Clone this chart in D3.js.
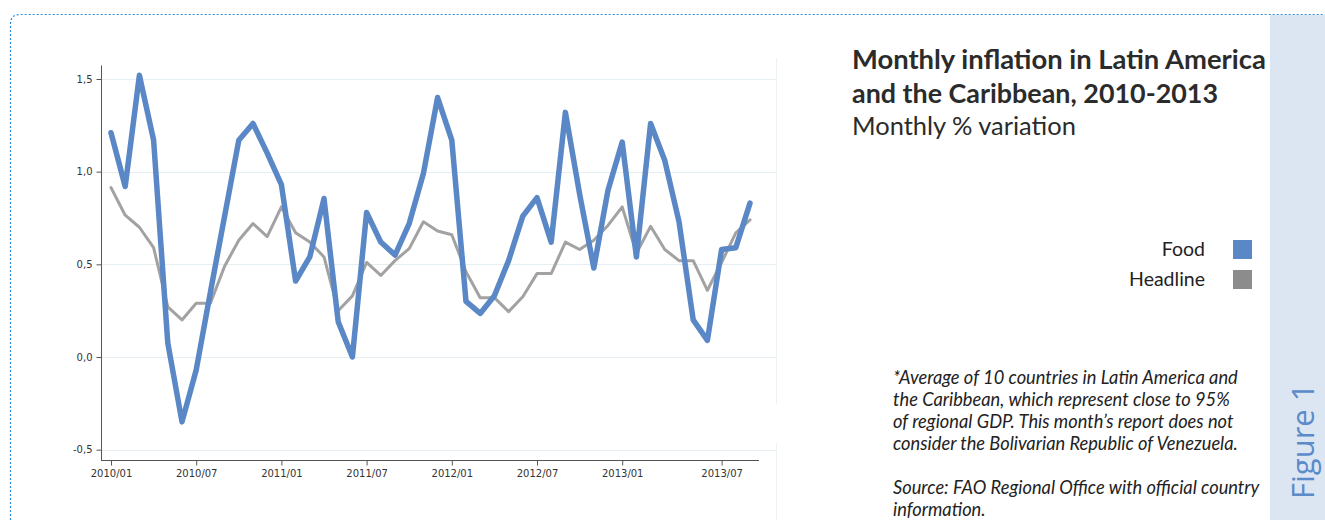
<!DOCTYPE html>
<html>
<head>
<meta charset="utf-8">
<script src="https://cdn.jsdelivr.net/npm/d3@7"></script>
<style>
  html, body { margin: 0; padding: 0; background: #fff; }
  svg { display: block; }
</style>
</head>
<body>
<svg id="chart" width="1325" height="520"></svg>
<script>
// ---------- data ----------
const months = [
  "2010/01","2010/02","2010/03","2010/04","2010/05","2010/06","2010/07","2010/08","2010/09","2010/10","2010/11","2010/12",
  "2011/01","2011/02","2011/03","2011/04","2011/05","2011/06","2011/07","2011/08","2011/09","2011/10","2011/11","2011/12",
  "2012/01","2012/02","2012/03","2012/04","2012/05","2012/06","2012/07","2012/08","2012/09","2012/10","2012/11","2012/12",
  "2013/01","2013/02","2013/03","2013/04","2013/05","2013/06","2013/07","2013/08","2013/09","2013/10"
];
const food = [
  1.21, 0.92, 1.52, 1.17, 0.075, -0.35, -0.07, 0.35, 0.76, 1.17, 1.26, 1.10,
  0.93, 0.41, 0.54, 0.855, 0.19, 0.0, 0.78, 0.62, 0.55, 0.72, 0.99, 1.40,
  1.17, 0.30, 0.235, 0.33, 0.52, 0.76, 0.86, 0.62, 1.32, 0.88, 0.48, 0.90,
  1.16, 0.54, 1.26, 1.06, 0.73, 0.20, 0.09, 0.58, 0.59, 0.83
];
const headline = [
  0.914, 0.765, 0.70, 0.59, 0.27, 0.20, 0.29, 0.29, 0.49, 0.63, 0.72, 0.65,
  0.81, 0.67, 0.62, 0.54, 0.25, 0.33, 0.51, 0.44, 0.52, 0.585, 0.73, 0.68,
  0.66, 0.46, 0.32, 0.32, 0.245, 0.325, 0.45, 0.45, 0.62, 0.58, 0.63, 0.71,
  0.81, 0.56, 0.705, 0.58, 0.52, 0.52, 0.36, 0.51, 0.67, 0.74
];
// x tick labels and the month each one sits on in the original
const xTickLabels = ["2010/01","2010/07","2011/01","2011/07","2012/01","2012/07","2013/01","2013/07"];
const xTickMonths = ["2010/01","2010/07","2011/01","2011/07","2012/01","2012/07","2013/01","2013/08"];
const yTicks = [-0.5, 0, 0.5, 1.0, 1.5];
const seriesNames = ["Food", "Headline"];
const titleLines = ["Monthly inflation in Latin America", "and the Caribbean, 2010-2013"];
const subtitle = "Monthly % variation";
const noteLines = [
  "*Average of 10 countries in Latin America and",
  "the Caribbean, which represent close to 95%",
  "of regional GDP. This month\u2019s report does not",
  "consider the Bolivarian Republic of Venezuela."
];
const sourceLines = ["Source: FAO Regional Office with official country", "information."];
const figureLabel = "Figure 1";

// ---------- styles ----------
const FOOD_COLOR = "#5a87c5";
const HEAD_COLOR = "#a2a2a2";
const HEAD_LEGEND = "#8c8c8c";

const svg = d3.select("#chart");

// dotted frame
svg.append("path")
  .attr("d", "M10.5,520 L10.5,24 Q10.5,14.5 20,14.5 L1325,14.5")
  .attr("fill", "none").attr("stroke", "#2b8ddb")
  .attr("stroke-width", 1.2).attr("stroke-dasharray", "2,2");

// side bar
svg.append("rect").attr("x", 1270).attr("y", 15).attr("width", 55).attr("height", 505)
  .attr("fill", "#dce6f2");
svg.append("text")
  .attr("transform", "translate(1314,499) rotate(-90)")
  .attr("font-family", "'Open Sans', 'Noto Sans', sans-serif")
  .attr("font-size", 31).attr("fill", "#5b8bc9")
  .text(figureLabel);

// ---------- scales ----------
const x = d3.scalePoint().domain(months).range([111, 750]);
const y = d3.scaleLinear().domain([0, 1.5]).range([357, 79]);
const xLeft = 101, xRight = 759, yTop = y(1.573), yBottom = 461;

// faint frame line at right of plot
svg.append("line").attr("x1", 776.5).attr("x2", 776.5).attr("y1", 58).attr("y2", 404)
  .attr("stroke", "#eef0f2");
svg.append("line").attr("x1", 776.5).attr("x2", 776.5).attr("y1", 443).attr("y2", 520)
  .attr("stroke", "#eef0f2");

// grid
svg.append("g").selectAll("line").data(yTicks).join("line")
  .attr("x1", xLeft).attr("x2", 777)
  .attr("y1", d => Math.round(y(d)) + 0.5).attr("y2", d => Math.round(y(d)) + 0.5)
  .attr("stroke", "#e5eef3").attr("stroke-width", 1);

// y axis
const yAxis = d3.axisLeft(y).tickValues(yTicks).tickSize(5).tickPadding(4)
  .tickFormat(d => d3.format(".1f")(d).replace(".", ",").replace("\u2212", "-"));
const gy = svg.append("g").attr("transform", `translate(${xLeft + 0.5},0)`).call(yAxis);
gy.select(".domain").attr("d", `M0,${yTop}V${yBottom}`).attr("stroke", "#555");
gy.selectAll(".tick line").attr("stroke", "#555");
gy.selectAll(".tick text").attr("fill", "#333").attr("font-family", "'DejaVu Sans', sans-serif").attr("font-size", 10);

// x axis
const xAxis = d3.axisBottom(x).tickValues(xTickMonths).tickSize(5).tickPadding(4)
  .tickFormat((d, i) => xTickLabels[i]);
const gx = svg.append("g").attr("transform", `translate(0,${yBottom - 0.5})`).call(xAxis);
gx.select(".domain").attr("d", `M${xLeft},0H${xRight}`).attr("stroke", "#555");
gx.selectAll(".tick line").attr("stroke", "#555");
gx.selectAll(".tick text").attr("fill", "#333").attr("font-family", "'DejaVu Sans', sans-serif").attr("font-size", 10);

// lines
const line = d3.line().x((d, i) => x(months[i])).y(d => y(d));
svg.append("path").datum(headline).attr("d", line)
  .attr("fill", "none").attr("stroke", HEAD_COLOR).attr("stroke-width", 3)
  .attr("stroke-linejoin", "round").attr("stroke-linecap", "round");
svg.append("path").datum(food).attr("d", line)
  .attr("fill", "none").attr("stroke", FOOD_COLOR).attr("stroke-width", 5.5)
  .attr("stroke-linejoin", "round").attr("stroke-linecap", "round");

// ---------- title ----------
const fitText = (sel, target) => {
  const w = sel.node().getComputedTextLength();
  const fs = parseFloat(sel.attr("font-size"));
  sel.attr("font-size", fs * target / w);
};
const t1 = svg.append("text").attr("x", 852).attr("y", 69)
  .attr("font-family", "Lato, 'Open Sans', sans-serif").attr("font-weight", "bold")
  .attr("font-size", 24).attr("fill", "#2b2b2b").text(titleLines[0]);
fitText(t1, 414);
const t2 = svg.append("text").attr("x", 852).attr("y", 103)
  .attr("font-family", "Lato, 'Open Sans', sans-serif").attr("font-weight", "bold")
  .attr("font-size", t1.attr("font-size")).attr("fill", "#2b2b2b").text(titleLines[1]);
t2.attr("textLength", 366).attr("lengthAdjust", "spacingAndGlyphs");
const t3 = svg.append("text").attr("x", 852).attr("y", 135)
  .attr("font-family", "Lato, 'Open Sans', sans-serif")
  .attr("font-size", 23).attr("fill", "#2b2b2b").text(subtitle);
fitText(t3, 224);

// ---------- legend ----------
const legendColors = [FOOD_COLOR, HEAD_LEGEND];
const lg = svg.append("g").selectAll("g").data(seriesNames).join("g")
  .attr("transform", (d, i) => `translate(0,${240 + i * 30})`);
lg.append("rect").attr("x", 1233).attr("y", 0).attr("width", 19).attr("height", 19)
  .attr("fill", (d, i) => legendColors[i]);
lg.append("text").attr("x", 1205).attr("y", 16).attr("text-anchor", "end")
  .attr("font-family", "Lato, 'Open Sans', sans-serif").attr("font-size", 19.5)
  .attr("fill", "#222").text(d => d);

// ---------- notes ----------
const noteG = svg.append("g")
  .attr("font-family", "Lato, 'Open Sans', sans-serif").attr("font-style", "italic")
  .attr("font-size", 16).attr("fill", "#222");
noteG.selectAll("text.n").data(noteLines).join("text").attr("class", "n")
  .attr("x", 893).attr("y", (d, i) => 384 + i * 22).text(d => d);
noteG.selectAll("text.s").data(sourceLines).join("text").attr("class", "s")
  .attr("x", 893).attr("y", (d, i) => 494 + i * 22).text(d => d);
const n0 = noteG.select("text.n");
{
  const w = n0.node().getComputedTextLength();
  noteG.attr("font-size", 16 * 345 / w);
}
</script>
</body>
</html>
